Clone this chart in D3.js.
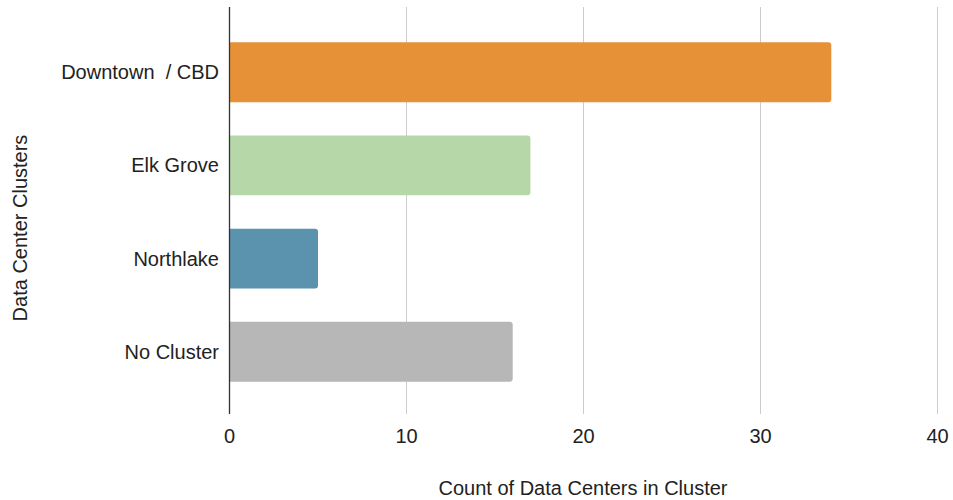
<!DOCTYPE html>
<html><head><meta charset="utf-8">
<script src="https://cdn.jsdelivr.net/npm/d3@7"></script>
<style>body{margin:0;background:#fff}svg{display:block}text{font-family:"Liberation Sans",Arial,sans-serif}</style>
</head><body><svg id="c" width="953" height="500"></svg>
<script>
const categories = ["Downtown  / CBD", "Elk Grove", "Northlake", "No Cluster"];
const values = [34, 17, 5, 16];
const colors = ["#e69138", "#b6d7a8", "#5b92ae", "#b7b7b7"];
const xTicks = [0, 10, 20, 30, 40];

const svg = d3.select("#c");
const x = d3.scaleLinear().domain([0, 40]).range([229.5, 937.5]);
const y = d3.scaleBand().domain(categories).range([25.5, 398.5]).paddingInner(0.357).paddingOuter(0.18);
const plotTop = 7, plotBottom = 414;

// gridlines
svg.append("g").selectAll("line").data(xTicks.filter(d => d > 0)).join("line")
  .attr("x1", d => x(d)).attr("x2", d => x(d)).attr("y1", plotTop).attr("y2", plotBottom)
  .attr("stroke", "#cccccc").attr("stroke-width", 1);

// bars with rounded right end
const r = 3;
svg.append("g").selectAll("path").data(categories).join("path")
  .attr("fill", (d, i) => colors[i])
  .attr("d", (d, i) => {
    const x0 = x(0), x1 = x(values[i]), y0 = y(d), h = y.bandwidth();
    return `M${x0},${y0}H${x1 - r}Q${x1},${y0} ${x1},${y0 + r}V${y0 + h - r}Q${x1},${y0 + h} ${x1 - r},${y0 + h}H${x0}Z`;
  });

// axis line
svg.append("line").attr("x1", x(0)).attr("x2", x(0)).attr("y1", plotTop).attr("y2", plotBottom)
  .attr("stroke", "#333").attr("stroke-width", 1.3);

// x tick labels
svg.append("g").selectAll("text").data(xTicks).join("text")
  .attr("x", d => x(d)).attr("y", 443).attr("text-anchor", "middle")
  .attr("font-size", 20).attr("fill", "#222").text(d => d);

// y labels
svg.append("g").selectAll("text").data(categories).join("text")
  .attr("x", 219).attr("y", d => y(d) + y.bandwidth() / 2).attr("dy", "0.35em")
  .attr("text-anchor", "end").attr("font-size", 20).attr("fill", "#222")
  .style("white-space", "pre").text(d => d);

// titles
svg.append("text").attr("x", 583).attr("y", 495).attr("text-anchor", "middle")
  .attr("font-size", 20).attr("fill", "#222").text("Count of Data Centers in Cluster");
svg.append("text").attr("transform", "translate(27,228) rotate(-90)").attr("text-anchor", "middle")
  .attr("font-size", 20).attr("fill", "#222").text("Data Center Clusters");
</script></body></html>
